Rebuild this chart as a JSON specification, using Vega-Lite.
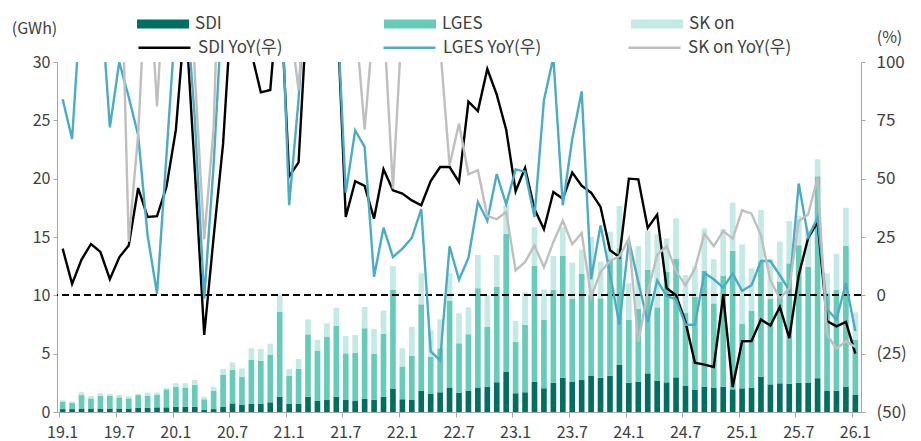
{
"$schema":"https://vega.github.io/schema/vega-lite/v6.json",
"width":804,"height":350,
"autosize":{"type":"none"},
"padding":{"left":57,"top":62,"right":60,"bottom":29},
"config":{"font":"Noto Sans CJK KR","view":{"stroke":null},"axis":{"grid":false,"labelFont":"Noto Sans CJK KR","titleFont":"Noto Sans CJK KR","labelColor":"#404040","titleColor":"#404040","domainColor":"#A6A6A6","tickColor":"#A6A6A6","labelFontSize":17,"titleFontSize":16,"titleFontWeight":"normal"},"legend":{"labelFont":"Noto Sans CJK KR","labelColor":"#404040","labelFontSize":17}},
"datasets":{"ord":[{"series":"SDI","ord":0},{"series":"LGES","ord":1},{"series":"SK on","ord":2}]},
"data":{"values":[
{"m":"19.1","SDI":0.25,"LGES":0.65,"SK on":0.1,"SDI YoY(우)":20,"LGES YoY(우)":84,"SK on YoY(우)":200},
{"m":"19.2","SDI":0.25,"LGES":0.55,"SK on":0.1,"SDI YoY(우)":4.9,"LGES YoY(우)":67,"SK on YoY(우)":200},
{"m":"19.3","SDI":0.3,"LGES":1.15,"SK on":0.25,"SDI YoY(우)":15.3,"LGES YoY(우)":130,"SK on YoY(우)":200},
{"m":"19.4","SDI":0.3,"LGES":0.87,"SK on":0.2,"SDI YoY(우)":22,"LGES YoY(우)":150,"SK on YoY(우)":200},
{"m":"19.5","SDI":0.3,"LGES":1.1,"SK on":0.2,"SDI YoY(우)":18.6,"LGES YoY(우)":131,"SK on YoY(우)":200},
{"m":"19.6","SDI":0.3,"LGES":1.1,"SK on":0.14,"SDI YoY(우)":6.9,"LGES YoY(우)":72,"SK on YoY(우)":200},
{"m":"19.7","SDI":0.3,"LGES":0.96,"SK on":0.2,"SDI YoY(우)":16.3,"LGES YoY(우)":100,"SK on YoY(우)":177},
{"m":"19.8","SDI":0.3,"LGES":0.87,"SK on":0.17,"SDI YoY(우)":21.4,"LGES YoY(우)":85,"SK on YoY(우)":23},
{"m":"19.9","SDI":0.35,"LGES":1.1,"SK on":0.11,"SDI YoY(우)":46,"LGES YoY(우)":68.6,"SK on YoY(우)":69},
{"m":"19.10","SDI":0.35,"LGES":1.05,"SK on":0.26,"SDI YoY(우)":33.6,"LGES YoY(우)":25.7,"SK on YoY(우)":150},
{"m":"19.11","SDI":0.4,"LGES":1.09,"SK on":0.17,"SDI YoY(우)":33.9,"LGES YoY(우)":0.7,"SK on YoY(우)":81},
{"m":"19.12","SDI":0.4,"LGES":1.54,"SK on":0.09,"SDI YoY(우)":46.4,"LGES YoY(우)":60,"SK on YoY(우)":150},
{"m":"20.1","SDI":0.45,"LGES":1.72,"SK on":0.29,"SDI YoY(우)":71,"LGES YoY(우)":120,"SK on YoY(우)":200},
{"m":"20.2","SDI":0.45,"LGES":1.66,"SK on":0.35,"SDI YoY(우)":121,"LGES YoY(우)":130,"SK on YoY(우)":200},
{"m":"20.3","SDI":0.45,"LGES":1.86,"SK on":0.43,"SDI YoY(우)":54,"LGES YoY(우)":76,"SK on YoY(우)":95},
{"m":"20.4","SDI":0.2,"LGES":0.89,"SK on":0.22,"SDI YoY(우)":-17,"LGES YoY(우)":-1.4,"SK on YoY(우)":24},
{"m":"20.5","SDI":0.25,"LGES":1.58,"SK on":0.34,"SDI YoY(우)":25,"LGES YoY(우)":56,"SK on YoY(우)":72},
{"m":"20.6","SDI":0.46,"LGES":2.71,"SK on":0.52,"SDI YoY(우)":65,"LGES YoY(우)":130,"SK on YoY(우)":200},
{"m":"20.7","SDI":0.74,"LGES":2.86,"SK on":0.66,"SDI YoY(우)":130,"LGES YoY(우)":150,"SK on YoY(우)":200},
{"m":"20.8","SDI":0.6,"LGES":2.43,"SK on":0.71,"SDI YoY(우)":150,"LGES YoY(우)":150,"SK on YoY(우)":200},
{"m":"20.9","SDI":0.69,"LGES":3.77,"SK on":1.0,"SDI YoY(우)":104,"LGES YoY(우)":150,"SK on YoY(우)":200},
{"m":"20.10","SDI":0.69,"LGES":3.68,"SK on":1.03,"SDI YoY(우)":87,"LGES YoY(우)":150,"SK on YoY(우)":200},
{"m":"20.11","SDI":0.83,"LGES":4.06,"SK on":0.97,"SDI YoY(우)":88,"LGES YoY(우)":150,"SK on YoY(우)":200},
{"m":"20.12","SDI":1.31,"LGES":7.29,"SK on":1.43,"SDI YoY(우)":136,"LGES YoY(우)":150,"SK on YoY(우)":200},
{"m":"21.1","SDI":0.69,"LGES":2.4,"SK on":0.6,"SDI YoY(우)":51,"LGES YoY(우)":38.6,"SK on YoY(우)":120},
{"m":"21.2","SDI":0.69,"LGES":3.0,"SK on":0.85,"SDI YoY(우)":57,"LGES YoY(우)":84,"SK on YoY(우)":88},
{"m":"21.3","SDI":1.31,"LGES":5.35,"SK on":1.28,"SDI YoY(우)":130,"LGES YoY(우)":150,"SK on YoY(우)":150},
{"m":"21.4","SDI":0.94,"LGES":4.29,"SK on":0.94,"SDI YoY(우)":150,"LGES YoY(우)":150,"SK on YoY(우)":150},
{"m":"21.5","SDI":1.03,"LGES":5.43,"SK on":1.14,"SDI YoY(우)":150,"LGES YoY(우)":150,"SK on YoY(우)":150},
{"m":"21.6","SDI":1.31,"LGES":6.09,"SK on":1.54,"SDI YoY(우)":130,"LGES YoY(우)":130,"SK on YoY(우)":150},
{"m":"21.7","SDI":1.03,"LGES":4.0,"SK on":1.48,"SDI YoY(우)":33.6,"LGES YoY(우)":44,"SK on YoY(우)":130},
{"m":"21.8","SDI":0.94,"LGES":4.15,"SK on":1.51,"SDI YoY(우)":48.9,"LGES YoY(우)":70.7,"SK on YoY(우)":120},
{"m":"21.9","SDI":1.11,"LGES":6.06,"SK on":1.83,"SDI YoY(우)":46.9,"LGES YoY(우)":63.6,"SK on YoY(우)":71},
{"m":"21.10","SDI":1.06,"LGES":3.91,"SK on":2.14,"SDI YoY(우)":32.9,"LGES YoY(우)":8,"SK on YoY(우)":120},
{"m":"21.11","SDI":1.31,"LGES":5.38,"SK on":2.01,"SDI YoY(우)":54,"LGES YoY(우)":29,"SK on YoY(우)":120},
{"m":"21.12","SDI":1.97,"LGES":8.49,"SK on":2.04,"SDI YoY(우)":45,"LGES YoY(우)":16.4,"SK on YoY(우)":45.7},
{"m":"22.1","SDI":1.09,"LGES":2.8,"SK on":1.57,"SDI YoY(우)":43.6,"LGES YoY(우)":20,"SK on YoY(우)":120},
{"m":"22.2","SDI":1.03,"LGES":3.77,"SK on":2.49,"SDI YoY(우)":40.7,"LGES YoY(우)":24.6,"SK on YoY(우)":150},
{"m":"22.3","SDI":1.8,"LGES":7.43,"SK on":2.67,"SDI YoY(우)":38.6,"LGES YoY(우)":36.9,"SK on YoY(우)":150},
{"m":"22.4","SDI":1.54,"LGES":3.2,"SK on":2.29,"SDI YoY(우)":49,"LGES YoY(우)":-24,"SK on YoY(우)":150},
{"m":"22.5","SDI":1.69,"LGES":3.77,"SK on":2.48,"SDI YoY(우)":55,"LGES YoY(우)":-27.9,"SK on YoY(우)":107},
{"m":"22.6","SDI":2.09,"LGES":7.42,"SK on":2.38,"SDI YoY(우)":55,"LGES YoY(우)":21,"SK on YoY(우)":55.7},
{"m":"22.7","SDI":1.66,"LGES":4.23,"SK on":2.57,"SDI YoY(우)":48.6,"LGES YoY(우)":6.7,"SK on YoY(우)":73.6},
{"m":"22.8","SDI":1.8,"LGES":4.86,"SK on":2.31,"SDI YoY(우)":83,"LGES YoY(우)":16,"SK on YoY(우)":51.9},
{"m":"22.9","SDI":2.09,"LGES":8.51,"SK on":2.86,"SDI YoY(우)":79,"LGES YoY(우)":40,"SK on YoY(우)":53.6},
{"m":"22.10","SDI":2.14,"LGES":5.17,"SK on":2.72,"SDI YoY(우)":97,"LGES YoY(우)":32,"SK on YoY(우)":34},
{"m":"22.11","SDI":2.54,"LGES":8.2,"SK on":2.72,"SDI YoY(우)":86,"LGES YoY(우)":52,"SK on YoY(우)":32.6},
{"m":"22.12","SDI":3.46,"LGES":11.8,"SK on":2.48,"SDI YoY(우)":71,"LGES YoY(우)":39,"SK on YoY(우)":35.7},
{"m":"23.1","SDI":1.6,"LGES":4.43,"SK on":1.77,"SDI YoY(우)":44.6,"LGES YoY(우)":54,"SK on YoY(우)":10.7},
{"m":"23.2","SDI":1.69,"LGES":5.77,"SK on":2.8,"SDI YoY(우)":54.6,"LGES YoY(우)":53,"SK on YoY(우)":14.3},
{"m":"23.3","SDI":2.6,"LGES":9.91,"SK on":3.32,"SDI YoY(우)":37,"LGES YoY(우)":33.6,"SK on YoY(우)":21.4},
{"m":"23.4","SDI":2.03,"LGES":5.86,"SK on":2.61,"SDI YoY(우)":28.3,"LGES YoY(우)":83.6,"SK on YoY(우)":12},
{"m":"23.5","SDI":2.51,"LGES":7.95,"SK on":2.91,"SDI YoY(우)":44.3,"LGES YoY(우)":102,"SK on YoY(우)":22.9},
{"m":"23.6","SDI":2.94,"LGES":10.43,"SK on":2.46,"SDI YoY(우)":41.4,"LGES YoY(우)":38.6,"SK on YoY(우)":32},
{"m":"23.7","SDI":2.6,"LGES":7.09,"SK on":3.11,"SDI YoY(우)":52.6,"LGES YoY(우)":67,"SK on YoY(우)":21.9},
{"m":"23.8","SDI":2.74,"LGES":9.09,"SK on":2.11,"SDI YoY(우)":47,"LGES YoY(우)":87.4,"SK on YoY(우)":26.7},
{"m":"23.9","SDI":3.09,"LGES":7.0,"SK on":4.94,"SDI YoY(우)":44,"LGES YoY(우)":6.9,"SK on YoY(우)":-0.7},
{"m":"23.10","SDI":2.94,"LGES":6.8,"SK on":3.15,"SDI YoY(우)":37.9,"LGES YoY(우)":30,"SK on YoY(우)":10},
{"m":"23.11","SDI":3.11,"LGES":9.92,"SK on":2.43,"SDI YoY(우)":19.3,"LGES YoY(우)":9.3,"SK on YoY(우)":14.7},
{"m":"23.12","SDI":4.03,"LGES":10.0,"SK on":3.63,"SDI YoY(우)":16.4,"LGES YoY(우)":-12.6,"SK on YoY(우)":16.7},
{"m":"24.1","SDI":2.51,"LGES":5.38,"SK on":3.14,"SDI YoY(우)":50,"LGES YoY(우)":23.6,"SK on YoY(우)":24.3},
{"m":"24.2","SDI":2.6,"LGES":6.23,"SK on":5.4,"SDI YoY(우)":49.7,"LGES YoY(우)":5.7,"SK on YoY(우)":-20},
{"m":"24.3","SDI":3.31,"LGES":8.86,"SK on":3.34,"SDI YoY(우)":28.9,"LGES YoY(우)":-11.4,"SK on YoY(우)":1.4},
{"m":"24.4","SDI":2.66,"LGES":6.31,"SK on":6.26,"SDI YoY(우)":34.6,"LGES YoY(우)":6.4,"SK on YoY(우)":17.4},
{"m":"24.5","SDI":2.54,"LGES":9.46,"SK on":2.89,"SDI YoY(우)":3.1,"LGES YoY(우)":-0.3,"SK on YoY(우)":21},
{"m":"24.6","SDI":2.97,"LGES":10.14,"SK on":3.49,"SDI YoY(우)":0,"LGES YoY(우)":-1.7,"SK on YoY(우)":10.3},
{"m":"24.7","SDI":2.23,"LGES":6.28,"SK on":3.23,"SDI YoY(우)":-11.4,"LGES YoY(우)":-12.6,"SK on YoY(우)":4.3},
{"m":"24.8","SDI":1.89,"LGES":8.0,"SK on":2.6,"SDI YoY(우)":-28.9,"LGES YoY(우)":-12.6,"SK on YoY(우)":11.4},
{"m":"24.9","SDI":2.17,"LGES":9.92,"SK on":3.65,"SDI YoY(우)":-29.7,"LGES YoY(우)":9.6,"SK on YoY(우)":26.4},
{"m":"24.10","SDI":2.09,"LGES":7.22,"SK on":3.8,"SDI YoY(우)":-30.7,"LGES YoY(우)":6.9,"SK on YoY(우)":21.1},
{"m":"24.11","SDI":2.17,"LGES":9.52,"SK on":4.0,"SDI YoY(우)":0,"LGES YoY(우)":3.3,"SK on YoY(우)":27.6},
{"m":"24.12","SDI":1.94,"LGES":11.89,"SK on":4.11,"SDI YoY(우)":-39.3,"LGES YoY(우)":9.3,"SK on YoY(우)":24.3},
{"m":"25.1","SDI":2.03,"LGES":5.51,"SK on":6.83,"SDI YoY(우)":-19.7,"LGES YoY(우)":1.9,"SK on YoY(우)":36.4},
{"m":"25.2","SDI":2.09,"LGES":6.57,"SK on":3.65,"SDI YoY(우)":-19.6,"LGES YoY(우)":4.3,"SK on YoY(우)":35},
{"m":"25.3","SDI":3.03,"LGES":9.86,"SK on":4.42,"SDI YoY(우)":-10.4,"LGES YoY(우)":14.7,"SK on YoY(우)":25.7},
{"m":"25.4","SDI":2.37,"LGES":7.32,"SK on":3.42,"SDI YoY(우)":-12.9,"LGES YoY(우)":14.7,"SK on YoY(우)":6.4},
{"m":"25.5","SDI":2.46,"LGES":8.71,"SK on":3.43,"SDI YoY(우)":-5,"LGES YoY(우)":8.6,"SK on YoY(우)":-1.4},
{"m":"25.6","SDI":2.43,"LGES":10.31,"SK on":3.63,"SDI YoY(우)":-18.3,"LGES YoY(우)":2.1,"SK on YoY(우)":3.1},
{"m":"25.7","SDI":2.5,"LGES":11.8,"SK on":2.5,"SDI YoY(우)":8.6,"LGES YoY(우)":47.9,"SK on YoY(우)":31.9},
{"m":"25.8","SDI":2.49,"LGES":9.97,"SK on":3.14,"SDI YoY(우)":24.6,"LGES YoY(우)":25,"SK on YoY(우)":34.6},
{"m":"25.9","SDI":2.9,"LGES":17.3,"SK on":1.46,"SDI YoY(우)":31.4,"LGES YoY(우)":33.3,"SK on YoY(우)":50.4},
{"m":"25.10","SDI":1.8,"LGES":8.37,"SK on":1.72,"SDI YoY(우)":-11,"LGES YoY(우)":-6,"SK on YoY(우)":-16.9},
{"m":"25.11","SDI":1.83,"LGES":8.63,"SK on":3.08,"SDI YoY(우)":-13.3,"LGES YoY(우)":-10.4,"SK on YoY(우)":-22.9},
{"m":"25.12","SDI":2.17,"LGES":12.09,"SK on":3.25,"SDI YoY(우)":-11.4,"LGES YoY(우)":5.3,"SK on YoY(우)":-19.7},
{"m":"26.1","SDI":1.46,"LGES":4.71,"SK on":2.37,"SDI YoY(우)":-25,"LGES YoY(우)":-15.3,"SK on YoY(우)":-22.1}
]},
"layer":[
{"transform":[{"fold":["SDI","LGES","SK on"],"as":["series","GWh"]},{"lookup":"series","from":{"data":{"name":"ord"},"key":"series","fields":["ord"]}}],
 "mark":{"type":"bar"},
 "encoding":{
  "x":{"field":"m","type":"ordinal","sort":null,"scale":{"paddingInner":0.4,"paddingOuter":0.3},"axis":{"title":null,"values":["19.1","19.7","20.1","20.7","21.1","21.7","22.1","22.7","23.1","23.7","24.1","24.7","25.1","25.7","26.1"],"bandPosition":0,"labelAngle":0,"tickSize":5,"labelPadding":7,"labelFontSize":16,"labelAlign":"center"}},
  "y":{"field":"GWh","type":"quantitative","stack":"zero","scale":{"domain":[0,30]},"axis":{"orient":"left","values":[0,5,10,15,20,25,30],"tickSize":4,"labelPadding":3,"labelFontSize":16,"title":"(GWh)","titleAngle":0,"titleX":-23,"titleY":-34,"titleAlign":"center","titleBaseline":"middle"}},
  "order":{"field":"ord","type":"quantitative","sort":"ascending"},
  "fill":{"field":"series","type":"nominal","sort":["SDI","LGES","SK on"],"scale":{"domain":["SDI","LGES","SK on"],"range":["#006E60","#66CBB9","#C3EAE4"]},
   "legend":{"orient":"none","legendX":80,"legendY":-64,"direction":"horizontal","columns":3,"gridAlign":"all","columnPadding":143,"title":null,"symbolType":"M-1,-0.17L1,-0.17L1,0.17L-1,0.17Z","symbolSize":2704,"symbolStrokeWidth":0,"labelOffset":6}}
 }},
{"mark":{"type":"rule","stroke":"#000000","strokeWidth":1.5,"strokeDash":[7,4]},
 "encoding":{"y":{"datum":10,"type":"quantitative","scale":{"domain":[0,30]},"axis":null}}},
{"transform":[{"fold":["SDI YoY(우)","LGES YoY(우)","SK on YoY(우)"],"as":["line","pct"]}],
 "mark":{"type":"line","clip":true,"strokeWidth":2.4},
 "encoding":{
  "x":{"field":"m","type":"ordinal","sort":null},
  "y":{"field":"pct","type":"quantitative","scale":{"domain":[-50,100]},"axis":{"orient":"right","values":[-50,-25,0,25,50,75,100],"tickSize":4,"labelPadding":11,"labelExpr":"datum.value < 0 ? '(' + abs(datum.value) + ')' : datum.value","title":"(%)","titleAngle":0,"titleX":28,"titleY":-25,"titleAlign":"center","titleBaseline":"middle"}},
  "stroke":{"field":"line","type":"nominal","sort":["SDI YoY(우)","LGES YoY(우)","SK on YoY(우)"],"scale":{"domain":["SDI YoY(우)","LGES YoY(우)","SK on YoY(우)"],"range":["#000000","#4BACC6","#BFBFBF"]},
   "legend":{"orient":"none","legendX":80,"legendY":-42,"direction":"horizontal","columns":3,"gridAlign":"all","columnPadding":76,"title":null,"symbolType":"stroke","symbolSize":2704,"symbolStrokeWidth":2.5,"labelOffset":6}}
 }}
],
"resolve":{"scale":{"y":"independent","fill":"independent","stroke":"independent"}}
}
